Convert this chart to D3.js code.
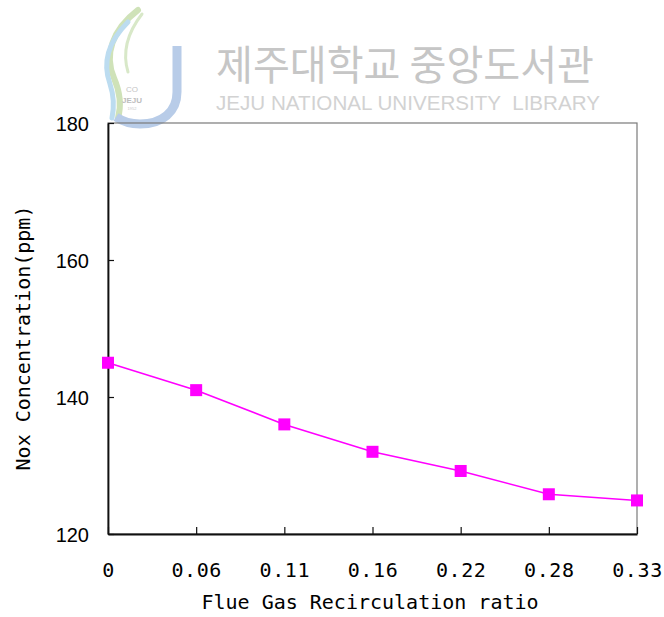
<!DOCTYPE html>
<html>
<head>
<meta charset="utf-8">
<script src="https://cdn.jsdelivr.net/npm/d3@7/dist/d3.min.js"></script>
<style>
  html, body { margin: 0; padding: 0; background: #fff; }
  svg { display: block; }
</style>
</head>
<body>
<svg id="chart" width="664" height="617"></svg>
<script>
// ---- data ----
const categories = ["0", "0.06", "0.11", "0.16", "0.22", "0.28", "0.33"];
const noxValues = [145, 141, 136, 132, 129.2, 125.8, 124.9];
const yTicks = [120, 140, 160, 180];
const xTitle = "Flue Gas Recirculation ratio";
const yTitle = "Nox Concentration(ppm)";
const watermarkKo = "제주대학교 중앙도서관";
const watermarkEn = "JEJU NATIONAL UNIVERSITY  LIBRARY";

// ---- layout ----
const W = 664, H = 617;
const plot = { left: 108, right: 637, top: 123, bottom: 534 };
const svg = d3.select("#chart");

// ---- watermark ----
const wm = svg.append("g").attr("class", "watermark");
wm.append("path")
  .attr("d", "M138,10 C112,30 104,55 114,78 C120,92 122,104 118,118")
  .attr("fill", "none").attr("stroke", "#cfe2b8").attr("stroke-width", 6).attr("stroke-linecap", "round");
wm.append("path")
  .attr("d", "M128,22 C108,42 102,62 110,84 C114,96 114,108 112,118")
  .attr("fill", "none").attr("stroke", "#bcdcf0").attr("stroke-width", 5).attr("stroke-linecap", "round");
wm.append("path")
  .attr("d", "M142,14 C128,32 122,52 128,72")
  .attr("fill", "none").attr("stroke", "#d8e8c8").attr("stroke-width", 3).attr("stroke-linecap", "round");
wm.append("path")
  .attr("d", "M177,46 L177,92 C177,112 162,124 140,124 C130,124 122,121 116,117")
  .attr("fill", "none").attr("stroke", "#b8cce8").attr("stroke-width", 9);
wm.append("text").attr("x", 132).attr("y", 92).attr("text-anchor", "middle")
  .attr("font-family", "Liberation Sans, sans-serif").attr("font-size", 8).attr("fill", "#c4c4c4").text("CO");
wm.append("text").attr("x", 132).attr("y", 103).attr("text-anchor", "middle")
  .attr("font-family", "Liberation Sans, sans-serif").attr("font-size", 8).attr("font-weight", "bold").attr("fill", "#bdbdbd").text("JEJU");
wm.append("text").attr("x", 132).attr("y", 110).attr("text-anchor", "middle")
  .attr("font-family", "Liberation Sans, sans-serif").attr("font-size", 4).attr("fill", "#c8c8c8").text("1952");
wm.append("text")
  .attr("x", 216).attr("y", 80)
  .attr("font-family", "Noto Sans CJK KR, sans-serif").attr("font-size", 41)
  .attr("textLength", 378).attr("lengthAdjust", "spacingAndGlyphs")
  .attr("fill", "#c6c6c6").text(watermarkKo);
wm.append("text")
  .attr("x", 216).attr("y", 110)
  .attr("font-family", "Liberation Sans, sans-serif").attr("font-size", 20)
  .attr("textLength", 384).attr("lengthAdjust", "spacingAndGlyphs")
  .attr("xml:space", "preserve").style("white-space", "pre")
  .attr("fill", "#d2d2d2").text(watermarkEn);

// ---- scales ----
const x = d3.scalePoint().domain(categories).range([plot.left, plot.right]).padding(0);
const y = d3.scaleLinear().domain([120, 180]).range([plot.bottom, plot.top]);

// ---- frame ----
svg.append("rect")
  .attr("x", plot.left).attr("y", plot.top)
  .attr("width", plot.right - plot.left).attr("height", plot.bottom - plot.top)
  .attr("fill", "none").attr("stroke", "#7a7a7a").attr("stroke-width", 1.2);

// ---- axes ----
const yAxis = d3.axisLeft(y).tickValues(yTicks).tickSizeInner(-6).tickSizeOuter(0).tickPadding(19);
const gy = svg.append("g").attr("transform", `translate(${plot.left},0)`).call(yAxis);
gy.select(".domain").attr("stroke", "#111").attr("stroke-width", 1.8);
gy.selectAll(".tick line").attr("stroke", "#111").attr("stroke-width", 1.2);
gy.selectAll(".tick text")
  .attr("font-family", "Liberation Sans, Arial, sans-serif").attr("font-size", 20).attr("fill", "#000")
  .attr("dy", "0.36em");

const xAxis = d3.axisBottom(x).tickSizeInner(-7).tickSizeOuter(0).tickPadding(29);
const gx = svg.append("g").attr("transform", `translate(0,${plot.bottom})`).call(xAxis);
gx.select(".domain").attr("stroke", "#111").attr("stroke-width", 1.8);
gx.selectAll(".tick line").attr("stroke", "#111").attr("stroke-width", 1.2);
gx.selectAll(".tick text")
  .attr("font-family", "DejaVu Sans Mono, monospace").attr("font-size", 20).attr("fill", "#000")
  .attr("letter-spacing", 0.6);

// ---- axis titles ----
svg.append("text")
  .attr("x", 370).attr("y", 609).attr("text-anchor", "middle")
  .attr("font-family", "DejaVu Sans Mono, monospace").attr("font-size", 20).attr("fill", "#000")
  .text(xTitle);
svg.append("text")
  .attr("transform", `translate(30,338) rotate(-90)`).attr("text-anchor", "middle")
  .attr("font-family", "DejaVu Sans Mono, monospace").attr("font-size", 20).attr("fill", "#000")
  .text(yTitle);

// ---- series ----
const pts = categories.map((c, i) => ({ c, v: noxValues[i] }));
svg.append("path")
  .datum(pts)
  .attr("fill", "none").attr("stroke", "#ff00ff").attr("stroke-width", 1.6)
  .attr("d", d3.line().x(d => x(d.c)).y(d => y(d.v)));
const ms = 12;
svg.append("g").selectAll("rect").data(pts).join("rect")
  .attr("x", d => x(d.c) - ms / 2).attr("y", d => y(d.v) - ms / 2)
  .attr("width", ms).attr("height", ms).attr("fill", "#ff00ff");
</script>
</body>
</html>
